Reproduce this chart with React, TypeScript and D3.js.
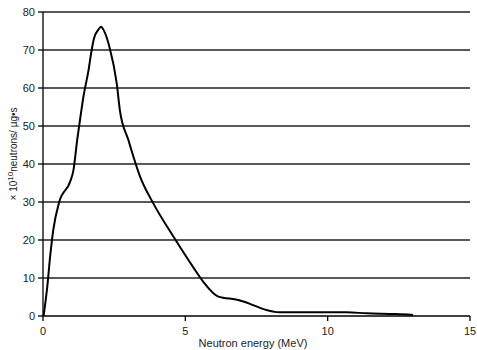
import React from "react";
import * as d3 from "d3";

const energy = [0.02, 0.15, 0.25, 0.36, 0.57, 0.95, 1.07, 1.2, 1.3, 1.42, 1.6, 1.71, 1.79, 1.94, 2.04, 2.14, 2.33, 2.59, 2.7, 3.0, 3.41, 3.87, 4.58, 5.28, 5.63, 6.16, 6.86, 7.27, 7.74, 8.32, 10.67, 11.37, 12.42, 13.0];
const flux = [0, 7.7, 15.6, 22.6, 30, 35.3, 38.4, 46.3, 51.6, 57.7, 64.7, 70, 73, 75.3, 76.1, 75.1, 70.9, 61.2, 54.2, 46.3, 36.7, 29.7, 20.9, 12.8, 9, 5.1, 4.2, 3.2, 1.8, 0.97, 0.97, 0.7, 0.5, 0.26];
const xTicks = [0, 5, 10, 15];
const yTicks = [0, 10, 20, 30, 40, 50, 60, 70, 80];

export default function App() {
  const W = 477, H = 350;
  const x = d3.scaleLinear().domain([0, 15]).range([43, 470]);
  const y = d3.scaleLinear().domain([0, 80]).range([316, 12]);
  const pts = energy.map((e, i) => [e, flux[i]] as [number, number]);
  const line = d3.line<[number, number]>().x(d => x(d[0])).y(d => y(d[1])).curve(d3.curveMonotoneX);
  const font = "Liberation Sans, Arial, sans-serif";
  return (
    <svg width={W} height={H} style={{ position: "absolute", left: 0, top: 0, background: "#fff" }} fontFamily={font}>
      {yTicks.filter(t => t > 0).map(t => (
        <line key={"g" + t} x1={x(0)} x2={x(15)} y1={y(t)} y2={y(t)} stroke="#222" strokeWidth={1.3} />
      ))}
      <line x1={x(0)} x2={x(15)} y1={y(0)} y2={y(0)} stroke="#000" strokeWidth={1.3} />
      <line x1={x(0)} x2={x(0)} y1={y(0)} y2={y(80)} stroke="#000" strokeWidth={1.3} />
      {yTicks.map(t => (
        <g key={"y" + t}>
          <line x1={x(0) - 5} x2={x(0)} y1={y(t)} y2={y(t)} stroke="#000" strokeWidth={1.3} />
          <text x={x(0) - 8} y={y(t)} dy="0.35em" textAnchor="end" fontSize={11} fill="#222">{t}</text>
        </g>
      ))}
      {xTicks.map(t => (
        <g key={"x" + t}>
          <line x1={x(t)} x2={x(t)} y1={y(0)} y2={y(0) + 5} stroke="#000" strokeWidth={1.3} />
          <text x={x(t)} y={y(0) + 19} textAnchor="middle" fontSize={11} fill="#222">{t}</text>
        </g>
      ))}
      <path d={line(pts) || ""} fill="none" stroke="#000" strokeWidth={2} strokeLinejoin="round" />
      <text x={253} y={347} textAnchor="middle" fontSize={11} fill="#222">Neutron energy (MeV)</text>
      <text transform={`translate(17, 154) rotate(-90)`} textAnchor="middle" fontSize={10} fill="#222">
        × 10<tspan dy={-4} fontSize={8}>10</tspan><tspan dy={4}>neutrons/ µg•s</tspan>
      </text>
    </svg>
  );
}
